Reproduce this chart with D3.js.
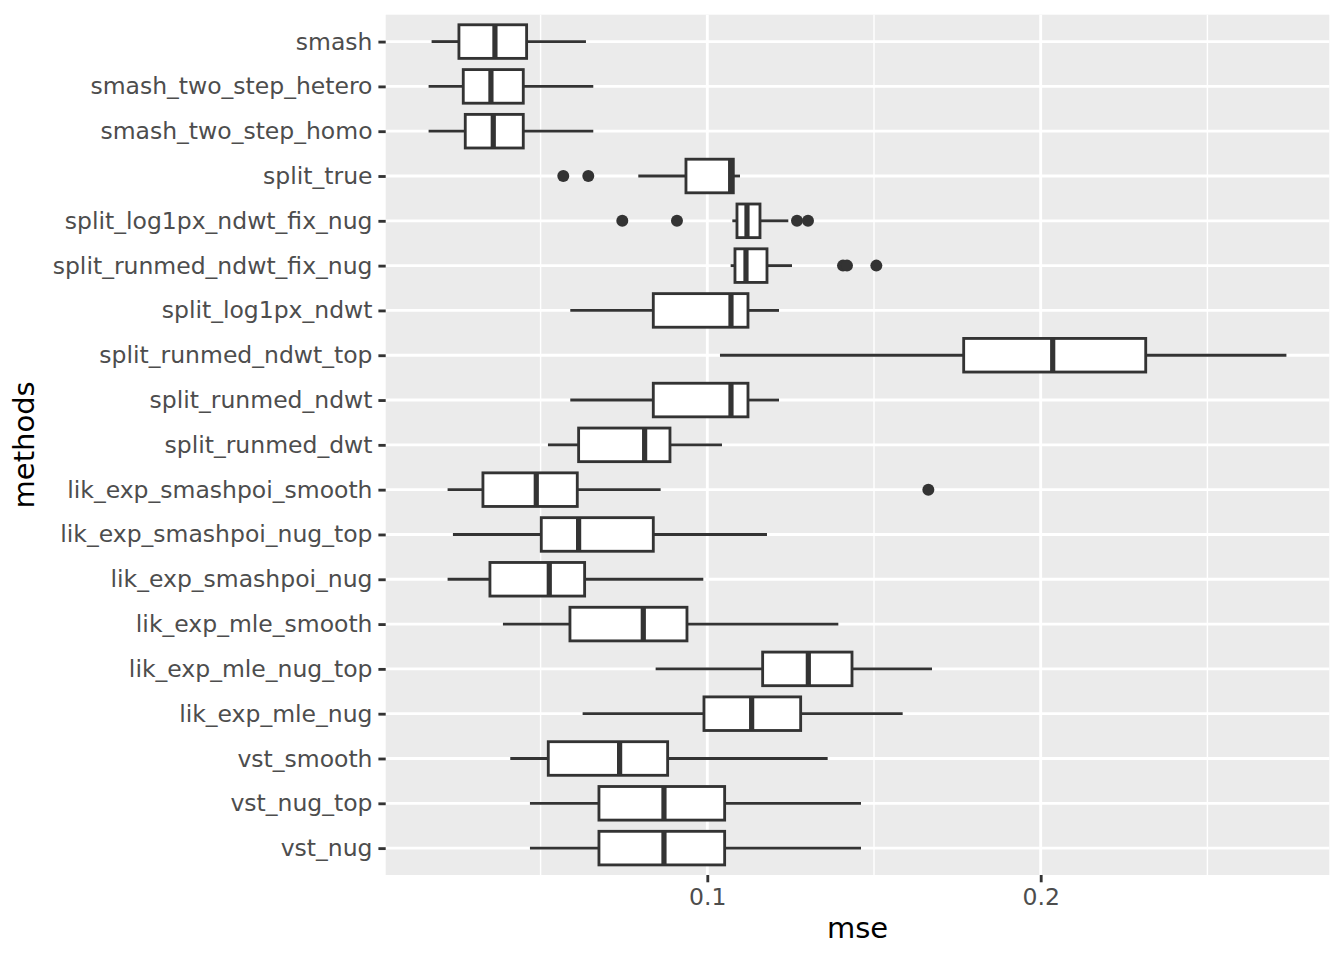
<!DOCTYPE html>
<html>
<head>
<meta charset="utf-8">
<script src="https://cdn.jsdelivr.net/npm/d3@7"></script>
<style>
  body { margin: 0; background: #fff; }
  svg, svg text { font-family: "DejaVu Sans", sans-serif; }
</style>
</head>
<body>
<svg id="chart" width="1344" height="960"></svg>
<script>
// --- data (top to bottom) ---
const methods = [
  "smash", "smash_two_step_hetero", "smash_two_step_homo", "split_true",
  "split_log1px_ndwt_fix_nug", "split_runmed_ndwt_fix_nug", "split_log1px_ndwt",
  "split_runmed_ndwt_top", "split_runmed_ndwt", "split_runmed_dwt",
  "lik_exp_smashpoi_smooth", "lik_exp_smashpoi_nug_top", "lik_exp_smashpoi_nug",
  "lik_exp_mle_smooth", "lik_exp_mle_nug_top", "lik_exp_mle_nug",
  "vst_smooth", "vst_nug_top", "vst_nug"
];
const whiskerLo = [0.0173, 0.0164, 0.0164, 0.0793, 0.1075, 0.1070, 0.0589, 0.1038, 0.0589, 0.0522,
                   0.0221, 0.0237, 0.0221, 0.0387, 0.0845, 0.0626, 0.0409, 0.0468, 0.0468];
const q1 =        [0.0255, 0.0268, 0.0274, 0.0936, 0.1089, 0.1083, 0.0838, 0.1769, 0.0838, 0.0614,
                   0.0327, 0.0502, 0.0348, 0.0588, 0.1166, 0.0990, 0.0523, 0.0675, 0.0675];
const medians =   [0.0363, 0.0351, 0.0358, 0.1070, 0.1119, 0.1116, 0.1071, 0.2036, 0.1071, 0.0812,
                   0.0487, 0.0614, 0.0526, 0.0808, 0.1303, 0.1133, 0.0737, 0.0870, 0.0870];
const q3 =        [0.0458, 0.0448, 0.0448, 0.1078, 0.1158, 0.1179, 0.1122, 0.2315, 0.1122, 0.0888,
                   0.0610, 0.0838, 0.0632, 0.0939, 0.1434, 0.1280, 0.0881, 0.1052, 0.1052];
const whiskerHi = [0.0636, 0.0658, 0.0658, 0.1098, 0.1243, 0.1254, 0.1215, 0.2737, 0.1215, 0.1044,
                   0.0860, 0.1179, 0.0988, 0.1393, 0.1674, 0.1586, 0.1361, 0.1461, 0.1461];
const outliers = [
  [], [], [], [0.0568, 0.0643],
  [0.0745, 0.0909, 0.1269, 0.1302], [0.1407, 0.1419, 0.1507], [],
  [], [], [],
  [0.1663], [], [],
  [], [], [],
  [], [], []
];
const xTicks = [0.1, 0.2];
const xMinor = [0.05, 0.15, 0.25];

// --- layout ---
const panel = { left: 385.7, right: 1329.3, top: 14.7, bottom: 875 };
const INK = "#333333";
const FONT = "DejaVu Sans";

const svg = d3.select("#chart");

// x scale: data range with ggplot-style 5% expansion
const allVals = whiskerLo.concat(whiskerHi, outliers.flat());
const lo = d3.min(allVals), hi = d3.max(allVals);
const pad = (hi - lo) * 0.05;
const x = d3.scaleLinear().domain([lo - pad, hi + pad]).range([panel.left, panel.right]);

const y = d3.scalePoint().domain(methods).range([panel.top, panel.bottom]).padding(0.6);
const boxH = y.step() * 0.75;

// panel background
svg.append("rect")
  .attr("x", panel.left).attr("y", panel.top)
  .attr("width", panel.right - panel.left).attr("height", panel.bottom - panel.top)
  .attr("fill", "#EBEBEB");

// grid lines
svg.append("g").selectAll("line").data(xMinor).join("line")
  .attr("x1", d => x(d)).attr("x2", d => x(d))
  .attr("y1", panel.top).attr("y2", panel.bottom)
  .attr("stroke", "#fff").attr("stroke-width", 1.42);
svg.append("g").selectAll("line").data(xTicks).join("line")
  .attr("x1", d => x(d)).attr("x2", d => x(d))
  .attr("y1", panel.top).attr("y2", panel.bottom)
  .attr("stroke", "#fff").attr("stroke-width", 2.84);
svg.append("g").selectAll("line").data(methods).join("line")
  .attr("x1", panel.left).attr("x2", panel.right)
  .attr("y1", d => y(d)).attr("y2", d => y(d))
  .attr("stroke", "#fff").attr("stroke-width", 2.84);

// boxplots
const boxes = svg.append("g").selectAll("g").data(methods).join("g");

boxes.append("line") // lower whisker
  .attr("x1", (d, i) => x(whiskerLo[i])).attr("x2", (d, i) => x(q1[i]))
  .attr("y1", d => y(d)).attr("y2", d => y(d))
  .attr("stroke", INK).attr("stroke-width", 2.84);
boxes.append("line") // upper whisker
  .attr("x1", (d, i) => x(q3[i])).attr("x2", (d, i) => x(whiskerHi[i]))
  .attr("y1", d => y(d)).attr("y2", d => y(d))
  .attr("stroke", INK).attr("stroke-width", 2.84);
boxes.append("rect")
  .attr("x", (d, i) => x(q1[i]))
  .attr("width", (d, i) => x(q3[i]) - x(q1[i]))
  .attr("y", d => y(d) - boxH / 2).attr("height", boxH)
  .attr("fill", "#fff").attr("stroke", INK).attr("stroke-width", 2.84);
boxes.append("line") // median
  .attr("x1", (d, i) => x(medians[i])).attr("x2", (d, i) => x(medians[i]))
  .attr("y1", d => y(d) - boxH / 2).attr("y2", d => y(d) + boxH / 2)
  .attr("stroke", INK).attr("stroke-width", 5.2);
boxes.selectAll("circle")
  .data((d, i) => outliers[i].map(v => ({ m: d, v })))
  .join("circle")
  .attr("cx", p => x(p.v)).attr("cy", p => y(p.m))
  .attr("r", 6).attr("fill", INK);

// axes
const xAxis = svg.append("g")
  .attr("transform", `translate(0,${panel.bottom})`)
  .call(d3.axisBottom(x).tickValues(xTicks).tickFormat(d3.format(".1f"))
    .tickSize(7.3).tickPadding(5.9));
const yAxis = svg.append("g")
  .attr("transform", `translate(${panel.left},0)`)
  .call(d3.axisLeft(y).tickSize(7.3).tickPadding(5.9));

[xAxis, yAxis].forEach(a => {
  a.attr("font-family", FONT).attr("font-size", 23.5);
  a.select(".domain").remove();
  a.selectAll(".tick line").attr("stroke", INK).attr("stroke-width", 2.84);
  a.selectAll(".tick text").attr("fill", "#4D4D4D");
});
xAxis.selectAll(".tick text").attr("dy", null).attr("y", 30);

// axis titles
svg.append("text")
  .attr("x", (panel.left + panel.right) / 2).attr("y", 938)
  .attr("text-anchor", "middle")
  .attr("font-family", FONT).attr("font-size", 29).attr("fill", "#000")
  .text("mse");
svg.append("text")
  .attr("transform", `translate(34,${(panel.top + panel.bottom) / 2}) rotate(-90)`)
  .attr("text-anchor", "middle")
  .attr("font-family", FONT).attr("font-size", 29).attr("fill", "#000")
  .text("methods");
</script>
</body>
</html>
